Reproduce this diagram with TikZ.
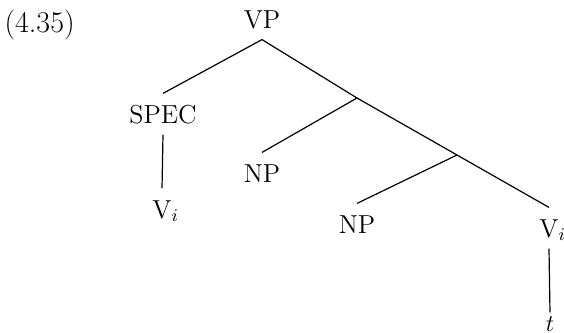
\documentclass[tikz,border=0pt]{standalone}
\begin{document}
\begin{tikzpicture}[x=.5pt,y=-.5pt,line width=.6pt,
  lab/.style={font=\fontsize{13}{15}\selectfont,text height=9pt,text depth=0pt,inner xsep=0pt,inner ysep=5.5pt}]
\useasboundingbox(0,0)rectangle(564,333);
\node[anchor=west,font=\fontsize{15}{18}\selectfont,inner sep=0pt](ex)at(4,25){(4.35)};
\node[lab](vp)at(262,19){VP};
\node[lab](spec)at(163,114){SPEC};
\node[lab](np1)at(262,173){NP};
\node[lab](vi1)at(162,209){V\rlap{$_i$}};
\node[lab](np2)at(357,224){NP};
\node[lab](vi2)at(549,228){V\rlap{$_i$}};
\node[lab,text height=8pt,inner ysep=1pt](t)at(550,323){$t$};
\coordinate(a)at(357,98);
\coordinate(b)at(457,155);
\draw(vp.south)--(spec.north);
\draw(vp.south)--(a)--(b)--(vi2.north);
\draw(a)--(np1.north);
\draw(b)--(np2.north);
\draw(spec.south)--(vi1.north);
\draw(vi2.south)--(t.north);
\end{tikzpicture}
\end{document}
